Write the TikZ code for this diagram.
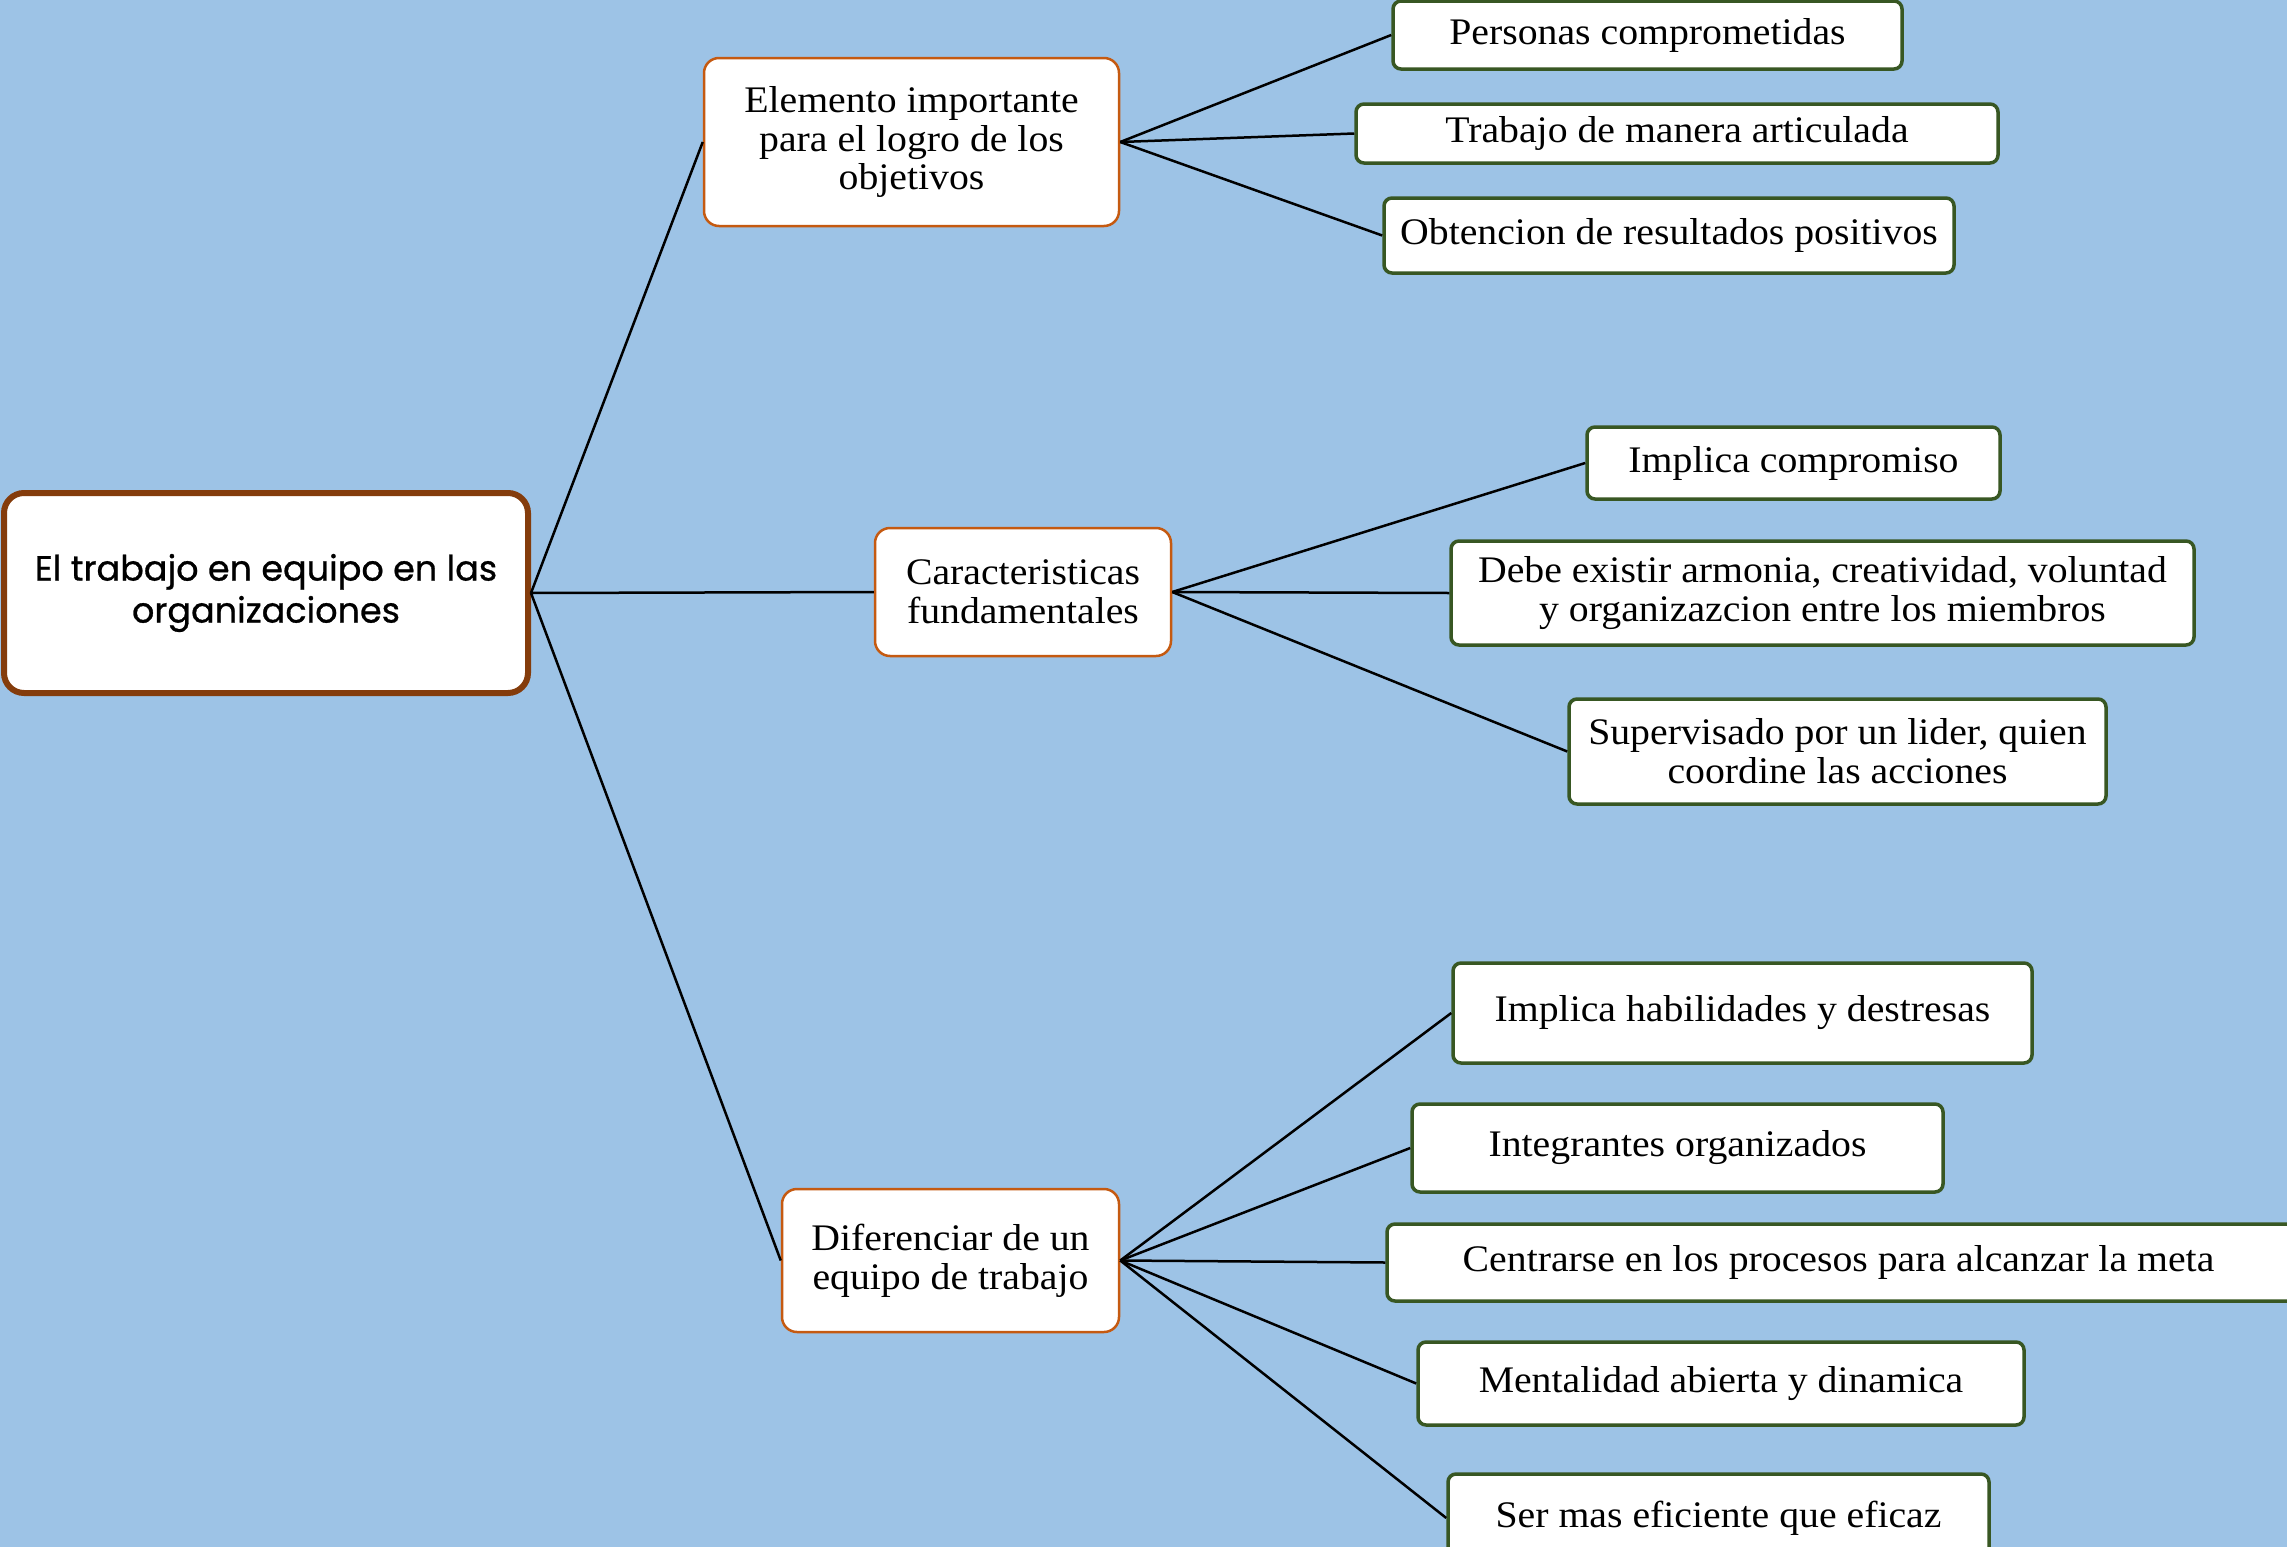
\documentclass[tikz,border=0pt]{standalone}
\usepackage{fontspec}
\setmainfont{Liberation Serif}[FakeStretch=1.06]
\newfontfamily\rootfont{Poppins}[FakeBold=0.8]
\definecolor{bgblue}{HTML}{9DC3E6}
\definecolor{leafgreen}{HTML}{385723}
\definecolor{midorange}{HTML}{C55A11}
\definecolor{rootbrown}{HTML}{843C0C}
\tikzset{
  rootbox/.style={draw=rootbrown, line width=6pt, fill=white, rounded corners=20pt, align=center, inner sep=0pt,
    font=\rootfont\fontsize{35}{42}\selectfont},
  midbox/.style={draw=midorange, line width=2.5pt, fill=white, rounded corners=15pt, align=center, inner sep=0pt,
    font=\fontsize{37.5}{38.7}\selectfont},
  leafbox/.style={draw=leafgreen, line width=3.5pt, fill=white, rounded corners=8pt, align=center, inner sep=0pt,
    font=\fontsize{37.5}{38.7}\selectfont},
  conn/.style={draw=black, line width=2.5pt}
}
\begin{document}
\begin{tikzpicture}[x=1pt,y=-1pt]
\fill[bgblue] (0,0) rectangle (2287,1547);
\useasboundingbox (0,0) rectangle (2287,1547);
% root
\node[rootbox, minimum width=524pt, minimum height=200pt] (root) at (266,593) {El trabajo en equipo en las\\organizaciones};
% level 1
\node[midbox, minimum width=415pt, minimum height=168pt] (A) at (911.5,142) {Elemento importante\\para el logro de los\\objetivos};
\node[midbox, minimum width=296pt, minimum height=128pt] (B) at (1023,592) {Caracteristicas\\fundamentales};
\node[midbox, minimum width=337pt, minimum height=143pt] (C) at (950.5,1260.5) {Diferenciar de un\\equipo de trabajo};
% leaves A
\node[leafbox, minimum width=509pt, minimum height=68pt] (A1) at (1647.5,35) {Personas comprometidas};
\node[leafbox, minimum width=642pt, minimum height=59pt] (A2) at (1677,133.5) {Trabajo de manera articulada};
\node[leafbox, minimum width=570pt, minimum height=75pt] (A3) at (1669,235.5) {Obtencion de resultados positivos};
% leaves B
\node[leafbox, minimum width=413pt, minimum height=72pt] (B1) at (1793.5,463) {Implica compromiso};
\node[leafbox, minimum width=743pt, minimum height=104pt] (B2) at (1822.5,593) {Debe existir armonia, creatividad, voluntad\\y organizazcion entre los miembros};
\node[leafbox, minimum width=537pt, minimum height=105pt] (B3) at (1837.5,751.5) {Supervisado por un lider, quien\\coordine las acciones};
% leaves C
\node[leafbox, minimum width=579pt, minimum height=100pt] (C1) at (1742.5,1013) {Implica habilidades y destresas};
\node[leafbox, minimum width=531pt, minimum height=88pt] (C2) at (1677.5,1148) {Integrantes organizados};
\node[leafbox, minimum width=913pt, minimum height=77pt] (C3) at (1843.5,1262.5) {\hspace*{-10pt}Centrarse en los procesos para alcanzar la meta};
\node[leafbox, minimum width=606pt, minimum height=83pt] (C4) at (1721,1383.5) {Mentalidad abierta y dinamica};
\node[leafbox, minimum width=541pt, minimum height=88pt] (C5) at (1718.5,1518) {Ser mas eficiente que eficaz};
% connectors
\draw[conn] (root.east) -- (A.west);
\draw[conn] (root.east) -- (B.west);
\draw[conn] (root.east) -- (C.west);
\draw[conn] (A.east) -- (A1.west);
\draw[conn] (A.east) -- (A2.west);
\draw[conn] (A.east) -- (A3.west);
\draw[conn] (B.east) -- (B1.west);
\draw[conn] (B.east) -- (B2.west);
\draw[conn] (B.east) -- (B3.west);
\draw[conn] (C.east) -- (C1.west);
\draw[conn] (C.east) -- (C2.west);
\draw[conn] (C.east) -- (C3.west);
\draw[conn] (C.east) -- (C4.west);
\draw[conn] (C.east) -- (C5.west);
\end{tikzpicture}
\end{document}
